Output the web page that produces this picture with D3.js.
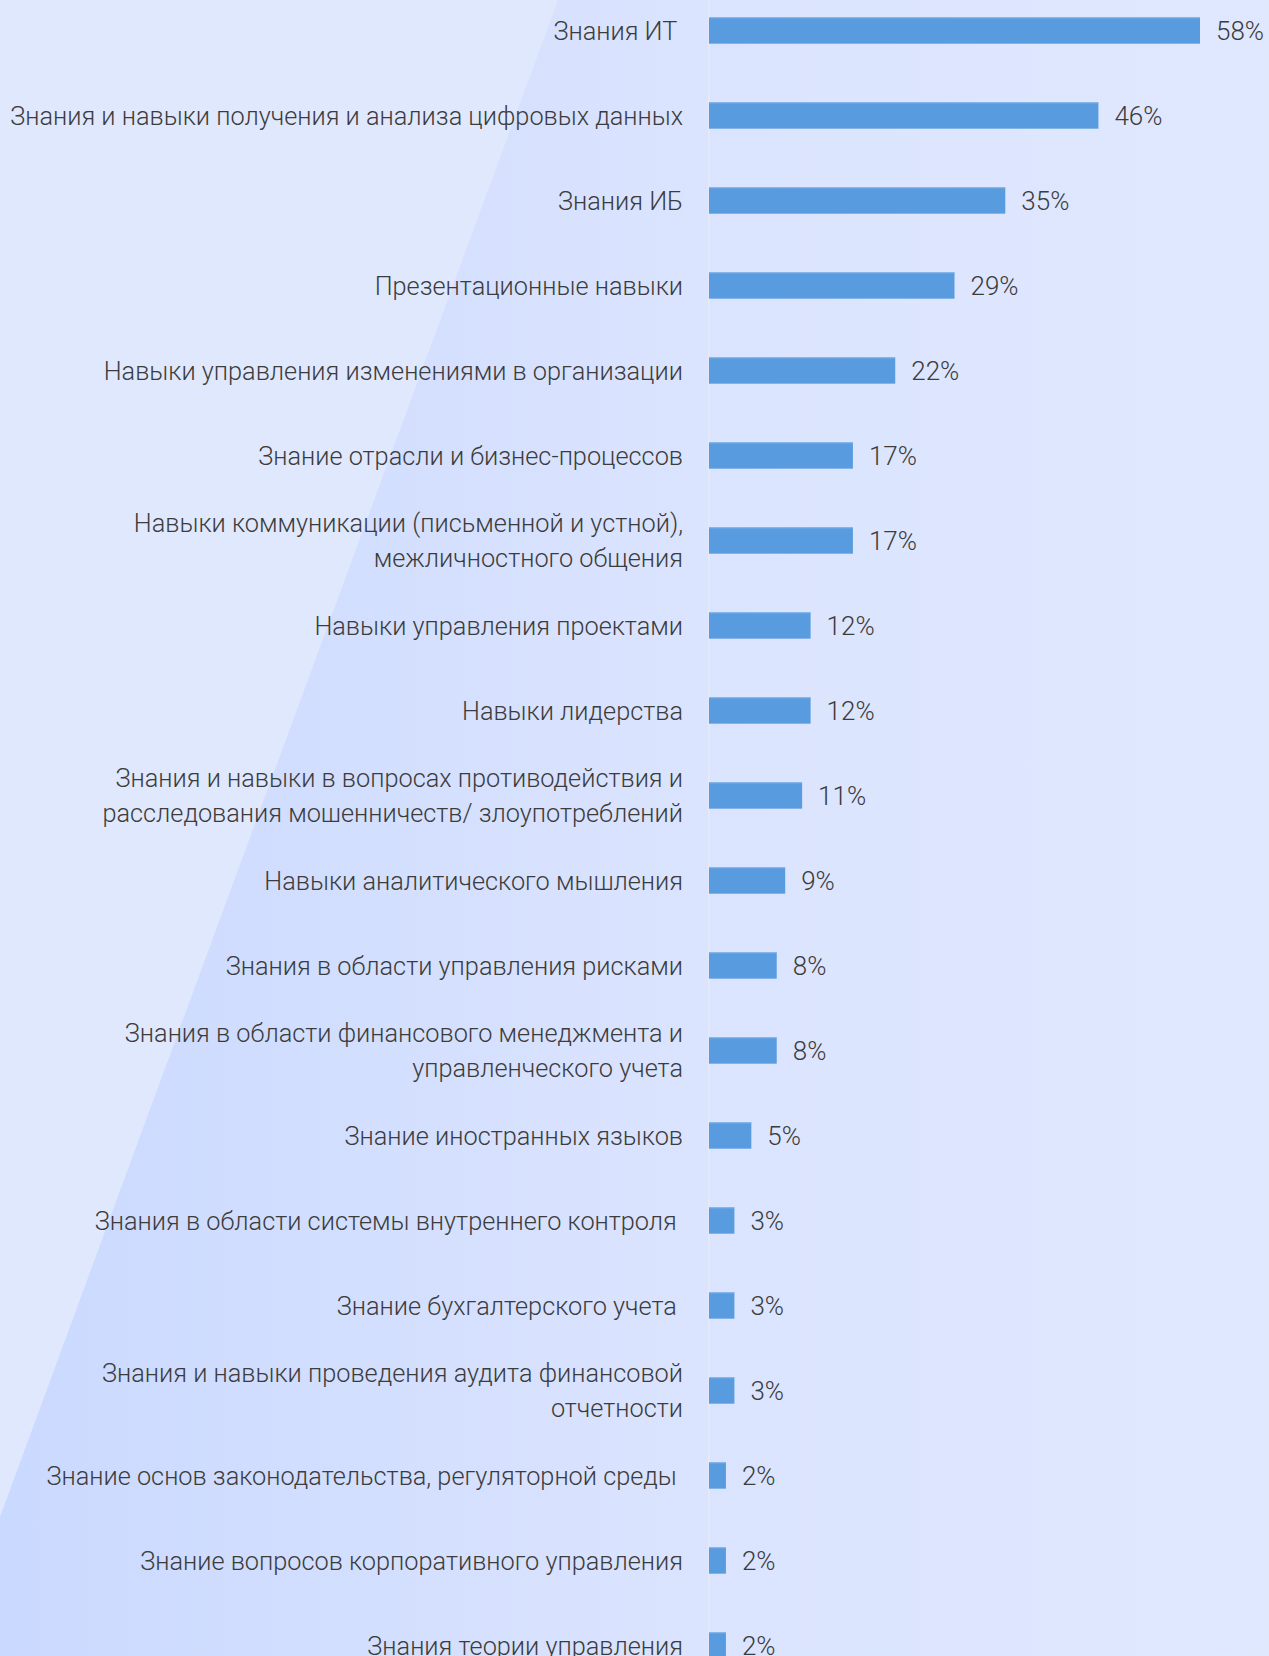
<!DOCTYPE html>
<html>
<head>
<meta charset="utf-8">
<script src="https://cdn.jsdelivr.net/npm/d3@7"></script>
<style>
  html, body { margin: 0; padding: 0; background: #e0e8fe; }
  svg { display: block; }
  .label, .value { font-family: Roboto, "Noto Sans", sans-serif; font-weight: 300; fill: #3c3c3c; white-space: pre; }
</style>
</head>
<body>
<svg id="chart"></svg>
<script>
// Categories (label lines) and values, top to bottom
const categories = [
    ["Знания ИТ "],
    ["Знания и навыки получения и анализа цифровых данных"],
    ["Знания ИБ"],
    ["Презентационные навыки"],
    ["Навыки управления изменениями в организации"],
    ["Знание отрасли и бизнес-процессов"],
    ["Навыки коммуникации (письменной и устной),", "межличностного общения"],
    ["Навыки управления проектами"],
    ["Навыки лидерства"],
    ["Знания и навыки в вопросах противодействия и", "расследования мошенничеств/ злоупотреблений"],
    ["Навыки аналитического мышления"],
    ["Знания в области управления рисками"],
    ["Знания в области финансового менеджмента и", "управленческого учета"],
    ["Знание иностранных языков"],
    ["Знания в области системы внутреннего контроля "],
    ["Знание бухгалтерского учета "],
    ["Знания и навыки проведения аудита финансовой", "отчетности"],
    ["Знание основ законодательства, регуляторной среды "],
    ["Знание вопросов корпоративного управления"],
    ["Знания теории управления"]
];
const values = [58, 46, 35, 29, 22, 17, 17, 12, 12, 11, 9, 8, 8, 5, 3, 3, 3, 2, 2, 2];

const width = 1269, height = 1656;
const axisX = 709;
const labelSize = 25.3, valueSize = 26;

const svg = d3.select('#chart')
    .attr('width', width)
    .attr('height', height);

// Background with diagonal band
const defs = svg.append('defs');
const grad = defs.append('linearGradient')
    .attr('id', 'band')
    .attr('x1', '0').attr('y1', '0')
    .attr('x2', '1').attr('y2', '0');
grad.append('stop').attr('offset', '0%').attr('stop-color', '#cad9ff');
grad.append('stop').attr('offset', '55%').attr('stop-color', '#dbe4fe');
grad.append('stop').attr('offset', '100%').attr('stop-color', '#e0e8fe');

svg.append('rect')
    .attr('width', width).attr('height', height)
    .attr('fill', '#e0e8fe');

svg.append('path')
    .attr('d', `M558,0 L${width},0 L${width},${height} L0,${height} L0,1517 Z`)
    .attr('fill', 'url(#band)');

// Scales
const x = d3.scaleLinear()
    .domain([0, 58])
    .range([0, 491]);

const y = d3.scaleBand()
    .domain(d3.range(values.length))
    .range([-12, 1688])
    .paddingInner(0.69)
    .paddingOuter(0.345);

// Faint axis line
svg.append('line')
    .attr('x1', axisX).attr('x2', axisX)
    .attr('y1', 0).attr('y2', height)
    .attr('stroke', '#e6ebf6')
    .attr('stroke-width', 1.5);

const g = svg.append('g');

// Bars
g.selectAll('rect.bar')
    .data(values)
    .join('rect')
    .attr('class', 'bar')
    .attr('x', axisX)
    .attr('y', (d, i) => y(i))
    .attr('width', d => x(d))
    .attr('height', y.bandwidth())
    .attr('fill', '#589bdf');

// Bar top highlight
g.selectAll('line.hl')
    .data(values)
    .join('line')
    .attr('class', 'hl')
    .attr('x1', axisX)
    .attr('x2', d => axisX + x(d))
    .attr('y1', (d, i) => y(i) + 0.5)
    .attr('y2', (d, i) => y(i) + 0.5)
    .attr('stroke', '#86b6ea')
    .attr('stroke-width', 1);

// Value labels
g.selectAll('text.value')
    .data(values)
    .join('text')
    .attr('class', 'value')
    .attr('x', d => axisX + x(d) + 16)
    .attr('y', (d, i) => y(i) + y.bandwidth() / 2)
    .attr('dy', '0.36em')
    .attr('font-size', valueSize)
    .text(d => d + '%');

// Category labels
const lineH = 34.8;
const labels = g.selectAll('text.label')
    .data(categories)
    .join('text')
    .attr('class', 'label')
    .attr('text-anchor', 'end')
    .attr('font-size', labelSize)
    .attr('y', (d, i) => y(i) + y.bandwidth() / 2);

labels.selectAll('tspan')
    .data(d => d.map((t, k) => ({ t, k, n: d.length })))
    .join('tspan')
    .attr('x', 683)
    .attr('dy', d => d.k === 0 ? (0.36 * labelSize - (d.n - 1) * lineH / 2) : lineH)
    .text(d => d.t);
</script>
</body>
</html>
